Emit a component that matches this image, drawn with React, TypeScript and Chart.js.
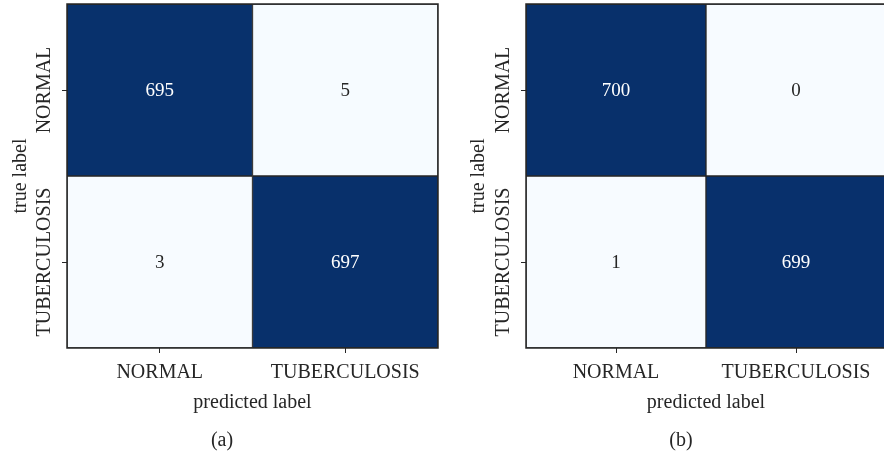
import React, { useEffect, useRef } from "react";
import { Chart, registerables } from "chart.js";

Chart.register(...registerables);

// ---- data ----
const classLabels = ["NORMAL", "TUBERCULOSIS"];
// panel (a): rows = true label, columns = predicted label
const aTrueNormal = [695, 5];
const aTrueTuberculosis = [3, 697];
// panel (b)
const bTrueNormal = [700, 0];
const bTrueTuberculosis = [1, 699];
const xAxisTitle = "predicted label";
const yAxisTitle = "true label";
const panelTags = ["(a)", "(b)"];

const FONT = "'Liberation Serif', 'DejaVu Serif', 'Times New Roman', serif";
const TEXT = "#262626";
const LINE = "#262626";

const BLUES = [
  [247, 251, 255],
  [222, 235, 247],
  [198, 219, 239],
  [158, 202, 225],
  [107, 174, 214],
  [66, 146, 198],
  [33, 113, 181],
  [8, 81, 156],
  [8, 48, 107],
];

function bluesColor(t: number): string {
  const c = Math.max(0, Math.min(1, t));
  const p = c * (BLUES.length - 1);
  const i = Math.min(BLUES.length - 2, Math.floor(p));
  const f = p - i;
  const a = BLUES[i];
  const b = BLUES[i + 1];
  const mix = (k: number) => Math.round(a[k] + (b[k] - a[k]) * f);
  return `rgb(${mix(0)},${mix(1)},${mix(2)})`;
}

type PanelProps = {
  rows: number[][];
  tag: string;
  left: number;
  width: number;
  yAxisWidth: number;
  rightPad: number;
  yTitlePad: number;
};

const HEIGHT = 455;

function Panel({ rows, tag, left, width, yAxisWidth, rightPad, yTitlePad }: PanelProps) {
  const ref = useRef<HTMLCanvasElement | null>(null);

  useEffect(() => {
    if (!ref.current) return;
    const all = rows.flat();
    const vmin = Math.min(...all);
    const vmax = Math.max(...all);
    const norm = (v: number) => (vmax === vmin ? 0 : (v - vmin) / (vmax - vmin));

    const overlay = {
      id: "cmOverlay",
      afterDatasetsDraw(chart: any) {
        const ctx = chart.ctx;
        const area = chart.chartArea;
        ctx.save();
        // cell values
        ctx.font = `19px ${FONT}`;
        ctx.textAlign = "center";
        ctx.textBaseline = "middle";
        chart.data.datasets.forEach((ds: any, i: number) => {
          const meta = chart.getDatasetMeta(i);
          meta.data.forEach((el: any, j: number) => {
            const p = el.getProps(["x", "y", "base"], true);
            const v = rows[i][j];
            ctx.fillStyle = norm(v) > 0.5 ? "#ffffff" : TEXT;
            ctx.fillText(String(v), p.x, (p.y + p.base) / 2 + 1);
          });
        });
        // frame
        ctx.strokeStyle = LINE;
        ctx.lineWidth = 1.5;
        ctx.strokeRect(area.left, area.top, area.right - area.left, area.bottom - area.top);
        // y tick labels (rotated)
        const ys = chart.scales.y;
        ctx.fillStyle = TEXT;
        ctx.font = `20px ${FONT}`;
        ys.ticks.forEach((t: any, i: number) => {
          const py = ys.getPixelForValue(t.value);
          ctx.save();
          ctx.translate(area.left - 22, py);
          ctx.rotate(-Math.PI / 2);
          ctx.textAlign = "center";
          ctx.textBaseline = "middle";
          ctx.fillText(classLabels[i], 0, 0);
          ctx.restore();
        });
        // panel tag
        ctx.textAlign = "center";
        ctx.textBaseline = "middle";
        ctx.fillText(tag, area.left + 155, 441);
        ctx.restore();
      },
    };

    const chart = new Chart(ref.current, {
      type: "bar",
      data: {
        labels: classLabels,
        datasets: rows.map((row, i) => ({
          label: classLabels[i],
          data: row.map(() => [i, i + 1]),
          backgroundColor: row.map((v) => bluesColor(norm(v))),
          borderColor: LINE,
          borderWidth: 1,
          borderSkipped: false,
          categoryPercentage: 1,
          barPercentage: 1,
        })) as any,
      },
      options: {
        responsive: false,
        animation: false,
        devicePixelRatio: 1,
        layout: { padding: { top: 4, right: rightPad, bottom: 35, left: 0 } },
        plugins: {
          legend: { display: false },
          tooltip: { enabled: false },
          title: { display: false },
        },
        scales: {
          x: {
            type: "category",
            stacked: true,
            offset: true,
            afterFit: (s: any) => {
              s.height = 72;
            },
            grid: {
              offset: false,
              drawOnChartArea: false,
              drawTicks: true,
              tickLength: 5,
              color: LINE,
            },
            border: { display: false },
            ticks: {
              color: TEXT,
              font: { family: FONT, size: 20 },
              padding: 8,
              maxRotation: 0,
              minRotation: 0,
            },
            title: {
              display: true,
              text: xAxisTitle,
              color: TEXT,
              font: { family: FONT, size: 20 },
              padding: { top: 0, bottom: 5 },
            },
          },
          y: {
            type: "linear",
            min: 0,
            max: rows.length,
            reverse: true,
            stacked: false,
            afterBuildTicks: (s: any) => {
              s.ticks = rows.map((_, i) => ({ value: i + 0.5 }));
            },
            afterFit: (s: any) => {
              s.width = yAxisWidth;
            },
            grid: {
              drawOnChartArea: false,
              drawTicks: true,
              tickLength: 5,
              color: LINE,
            },
            border: { display: false },
            ticks: { display: false },
            title: {
              display: true,
              text: yAxisTitle,
              color: TEXT,
              font: { family: FONT, size: 20 },
              padding: { top: yTitlePad, bottom: 0 },
            },
          },
        },
      } as any,
      plugins: [overlay],
    });
    return () => chart.destroy();
  }, [rows, tag, yAxisWidth, rightPad, yTitlePad]);

  return (
    <canvas
      ref={ref}
      width={width}
      height={HEIGHT}
      style={{ position: "absolute", left, top: 0, width, height: HEIGHT }}
    />
  );
}

const rowsA = [aTrueNormal, aTrueTuberculosis];
const rowsB = [bTrueNormal, bTrueTuberculosis];

export default function App() {
  return (
    <div
      style={{
        position: "absolute",
        left: 0,
        top: 0,
        width: 884,
        height: HEIGHT,
        overflow: "hidden",
        background: "#ffffff",
      }}
    >
      <Panel rows={rowsA} tag={panelTags[0]} left={0} width={445} yAxisWidth={67} rightPad={7} yTitlePad={9} />
      <Panel rows={rowsB} tag={panelTags[1]} left={445} width={450} yAxisWidth={81} rightPad={9} yTitlePad={22} />
    </div>
  );
}
